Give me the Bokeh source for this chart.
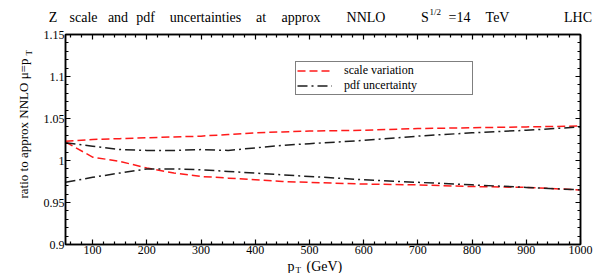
import numpy as np
from bokeh.plotting import figure
from bokeh.layouts import column, row
from bokeh.models import Range1d, LinearAxis, FixedTicker, Label, Legend, LegendItem
from bokeh.embed import file_html
from bokeh.resources import INLINE

# ---- data ----
pt = [50, 100, 150, 200, 250, 300, 350, 400, 450, 500, 600, 700, 800, 900, 1000]
scale_upper = [1.023, 1.025, 1.026, 1.027, 1.028, 1.029, 1.031, 1.033, 1.034, 1.035, 1.036, 1.038, 1.039, 1.040, 1.041]
scale_lower = [1.022, 1.004, 0.999, 0.991, 0.985, 0.981, 0.979, 0.977, 0.975, 0.974, 0.972, 0.971, 0.969, 0.968, 0.965]
pdf_upper = [1.021, 1.017, 1.013, 1.012, 1.012, 1.013, 1.012, 1.015, 1.018, 1.020, 1.024, 1.029, 1.033, 1.036, 1.040]
pdf_lower = [0.974, 0.980, 0.985, 0.990, 0.990, 0.989, 0.987, 0.985, 0.983, 0.981, 0.977, 0.974, 0.971, 0.968, 0.965]

x_ticks = [100, 200, 300, 400, 500, 600, 700, 800, 900, 1000]
x_tick_labels = ["100", "200", "300", "400", "500", "600", "700", "800", "900", "1000"]
y_ticks = [0.9, 0.95, 1.0, 1.05, 1.1, 1.15]
y_tick_labels = ["0.9", "0.95", "1", "1.05", "1.1", "1.15"]

FONT = "Liberation Serif"
W, H = 599, 273
TITLE_H, XLAB_H, YLAB_W = 30, 14, 40
MID_H = H - TITLE_H - XLAB_H

x_minor = [v for v in range(60, 1000, 20) if v % 100 != 0]
y_minor = [round(0.9 + 0.01 * i, 2) for i in range(1, 25) if i % 5 != 0]


def strip(w, h):
    f = figure(width=w, height=h, output_backend="svg", toolbar_location=None, title=None,
               x_axis_type=None, y_axis_type=None, x_range=Range1d(0, 1), y_range=Range1d(0, 1),
               min_border=0, min_border_left=0, min_border_right=0,
               min_border_top=0, min_border_bottom=0)
    f.outline_line_color = None
    f.background_fill_color = "white"
    f.border_fill_color = "white"
    f.xgrid.visible = False
    f.ygrid.visible = False
    return f


def lab(fig, text, x, y, size="13px", angle=0.0, align="left"):
    fig.add_layout(Label(x=x, y=y, x_units="screen", y_units="screen", text=text,
                         angle=angle, text_font=FONT, text_font_size=size,
                         text_color="black", text_align=align, text_baseline="alphabetic"))


# ---- title strip ----
tfig = strip(W, TITLE_H)
ty = 13
for word, x in [("Z", 52.5), ("scale", 83), ("and", 117.5), ("pdf", 145), ("uncertainties", 205),
                ("at", 260.5), ("approx", 300.5), ("NNLO", 365.5), ("S", 424.5),
                ("=14", 459), ("TeV", 497), ("LHC", 577.5)]:
    lab(tfig, word, x, ty, size="14px", align="center")
lab(tfig, "1/2", 429, ty + 6, size="9px")

# ---- y axis title strip ----
yfig = strip(YLAB_W, MID_H)
lab(yfig, "ratio to approx NNLO  \u03bc=p", 23, 46, angle=np.pi / 2)
lab(yfig, "T", 28, 189, size="9px", angle=np.pi / 2)

# ---- x axis title strip ----
xfig = strip(W, XLAB_H)
lab(xfig, "p", 287, 7, size="14px")
lab(xfig, "T", 295, 4, size="9px")
lab(xfig, "(GeV)", 306, 7, size="14px")

# ---- main plot ----
p = figure(width=W - YLAB_W, height=MID_H, output_backend="svg", toolbar_location=None,
           title=None, x_range=Range1d(50, 1000), y_range=Range1d(0.9, 1.15),
           x_axis_type=None, y_axis_type=None,
           min_border_left=65 - YLAB_W, min_border_right=19, min_border_top=4, min_border_bottom=15)
p.outline_line_color = "black"
p.outline_line_width = 1.5
p.background_fill_color = "white"
p.border_fill_color = "white"


def make_axis(ticks, minor, labels, show):
    ax = LinearAxis(ticker=FixedTicker(ticks=ticks, minor_ticks=minor))
    ax.major_tick_in = 5
    ax.major_tick_out = 0
    ax.minor_tick_in = 3
    ax.minor_tick_out = 0
    ax.axis_line_width = 1.5
    ax.major_tick_line_width = 1.2
    ax.minor_tick_line_width = 1.2
    ax.axis_line_color = "black"
    ax.major_tick_line_color = "black"
    ax.minor_tick_line_color = "black"
    ax.major_label_text_font = FONT
    ax.major_label_text_color = "black"
    if show:
        ax.major_label_overrides = {t: l for t, l in zip(ticks, labels)}
        ax.major_label_text_font_size = "12px"
        ax.major_label_standoff = 1
    else:
        ax.major_label_overrides = {t: "" for t in ticks}
        ax.major_label_text_font_size = "1px"
        ax.major_label_standoff = 0
    return ax


p.add_layout(make_axis(x_ticks, x_minor, x_tick_labels, True), "below")
p.add_layout(make_axis(y_ticks, y_minor, y_tick_labels, True), "left")
p.add_layout(make_axis(x_ticks, x_minor, x_tick_labels, False), "above")
p.add_layout(make_axis(y_ticks, y_minor, y_tick_labels, False), "right")

RED = "#ff1a1a"
BLK = "#1e1e1e"
r1 = p.line(pt, scale_upper, line_color=RED, line_width=1.5, line_dash="8 4")
r2 = p.line(pt, scale_lower, line_color=RED, line_width=1.5, line_dash="8 4")
r3 = p.line(pt, pdf_upper, line_color=BLK, line_width=1.5, line_dash="10 4 2 4")
r4 = p.line(pt, pdf_lower, line_color=BLK, line_width=1.5, line_dash="10 4 2 4")

legend = Legend(items=[LegendItem(label="scale variation", renderers=[r1]),
                       LegendItem(label="pdf uncertainty", renderers=[r3])],
                location=(230, 149), orientation="vertical")
legend.label_text_font = FONT
legend.label_text_font_size = "12px"
legend.label_text_color = "black"
legend.glyph_width = 35
legend.glyph_height = 9
legend.label_height = 9
legend.label_width = 127
legend.label_standoff = 12
legend.padding = 1
legend.spacing = 0
legend.margin = 0
legend.border_line_color = "black"
legend.border_line_width = 1
legend.background_fill_color = "white"
legend.background_fill_alpha = 1
p.add_layout(legend)

layout = column(tfig, row(yfig, p), xfig)
open("out.html", "w").write(file_html(layout, INLINE))
